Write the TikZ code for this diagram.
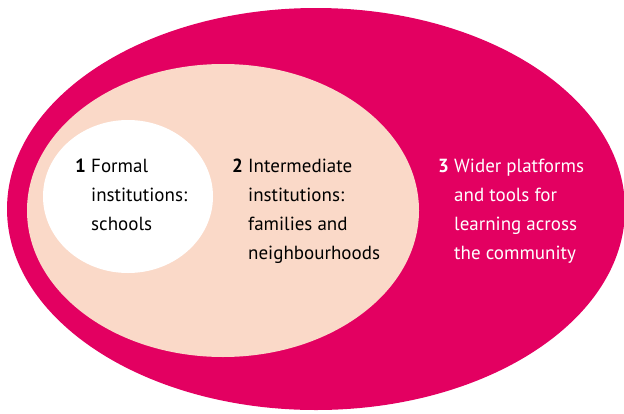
\documentclass[tikz,border=0pt]{standalone}
\usepackage{fontspec}
\setmainfont{PT Sans}
\usetikzlibrary{positioning,shapes.geometric}
\definecolor{wider}{RGB}{227,0,97}
\definecolor{intermediate}{RGB}{250,217,200}
\newcommand\ringtext[2]{\makebox[16pt][l]{\bfseries #1}\begin{tabular}[t]{@{}l@{}}#2\end{tabular}}

\begin{document}
\begin{tikzpicture}[
x=1pt,y=-1pt,
ring/.style={
	ellipse,
	inner sep=0pt,
	draw=none
},
caption/.style={
	anchor=base west,
	inner sep=0pt,
	font=\fontsize{19}{29}\selectfont
}
]
\useasboundingbox (0,0) rectangle (624,413);

% the three rings
\node[ring,fill=wider,minimum width=618pt,minimum height=402pt] (community) at (316,209) {};
\node[ring,fill=intermediate,minimum width=392pt,minimum height=293pt] (families) at (223,210.5) {};
\node[ring,fill=white,minimum width=170pt,minimum height=153pt] (schools) at (128,196.5) {};

% labels
\node[caption] (l1) at (75,172) {\ringtext{1}{Formal\\institutions:\\schools}};
\node[caption] (l2) at (232,172) {\ringtext{2}{Intermediate\\institutions:\\families and\\neighbourhoods}};
\node[caption,text=white] (l3) at (438,172) {\ringtext{3}{Wider platforms\\and tools for\\learning across\\the community}};
\end{tikzpicture}
\end{document}
